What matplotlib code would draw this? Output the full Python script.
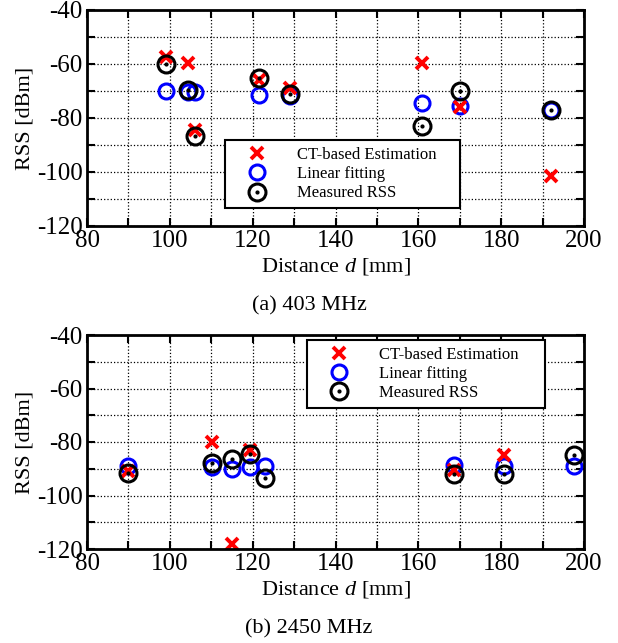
import matplotlib
matplotlib.use('Agg')
import matplotlib.pyplot as plt
from matplotlib.ticker import MultipleLocator
from matplotlib.legend_handler import HandlerTuple

plt.rcParams['font.family'] = ['Liberation Serif', 'DejaVu Serif']
plt.rcParams['mathtext.fontset'] = 'custom'
plt.rcParams['mathtext.rm'] = 'Liberation Serif'
plt.rcParams['mathtext.it'] = 'Liberation Serif:italic'
plt.rcParams['axes.unicode_minus'] = False

# 1. Data
series_labels = ['CT-based Estimation', 'Linear fitting', 'Measured RSS']

dist_403 = [99, 104.5, 106, 121.5, 129, 161, 170, 192]
ct_403   = [-57.5, -59.5, -84.5, -66, -69, -59.5, -76, -101.5]
lin_403  = [-70, -70.3, -70.4, -71.5, -72, -74.3, -75.5, -77]
meas_403 = [-60, -69.7, -86.5, -65, -71, -83, -70, -77]

# two CT estimates fall below the plotted range (not visible in the figure)
dist_2450 = [90, 110.3, 115, 119.3, 123, 168.7, 180.6, 197.6]
ct_2450   = [-91, -80, -118, -83, -126, -90.5, -85, -127]
lin_2450  = [-89, -89.5, -90, -89.2, -89, -88.6, -89, -89]
meas_2450 = [-91.7, -88, -86.5, -84.6, -93.5, -92, -92, -85]

captions = ['(a) 403 MHz', '(b) 2450 MHz']


def draw_panel(ax, dist, ct, lin, meas, leg_box):
    h_lin, = ax.plot(dist, lin, 'o', ls='none', ms=10.8, mfc='none',
                     mec='blue', mew=2.2)
    h_ct, = ax.plot(dist, ct, 'x', ls='none', ms=9, mec='red', mew=2.8)
    h_meas, = ax.plot(dist, meas, 'o', ls='none', ms=12.2, mfc='none',
                      mec='black', mew=2.2)
    h_dot, = ax.plot(dist, meas, '.', ls='none', ms=4, color='black')

    ax.set_xlim(80, 200)
    ax.set_ylim(-120, -40)
    ax.xaxis.set_major_locator(MultipleLocator(20))
    ax.xaxis.set_minor_locator(MultipleLocator(10))
    ax.yaxis.set_major_locator(MultipleLocator(20))
    ax.yaxis.set_minor_locator(MultipleLocator(10))
    ax.grid(True, which='both', ls=':', color='black', lw=0.9)
    ax.tick_params(which='both', direction='in', top=True, right=True,
                   length=6, width=1.5, labelsize=18, pad=3)
    for s in ax.spines.values():
        s.set_linewidth(2)
    ax.set_xlabel('Distance $d$ [mm]', fontsize=16, labelpad=3)
    ax.set_ylabel('RSS [dBm]', fontsize=16)
    ax.yaxis.set_label_coords(-0.105, 0.5)

    leg = ax.legend([h_ct, h_lin, (h_meas, h_dot)], series_labels,
                    handler_map={tuple: HandlerTuple(ndivide=1)},
                    loc='upper left', bbox_to_anchor=leg_box, mode='expand',
                    fontsize=12, fancybox=False, framealpha=1,
                    edgecolor='black', borderpad=0.4, labelspacing=0.2,
                    handlelength=3.0, handletextpad=0.9, borderaxespad=0)
    leg.get_frame().set_linewidth(1.5)


fig = plt.figure(figsize=(6.18, 6.43), dpi=100)
ax1 = fig.add_axes([87 / 618, 1 - 226 / 643, 497 / 618, 216 / 643])
ax2 = fig.add_axes([87 / 618, 1 - 549 / 643, 497 / 618, 214 / 643])

draw_panel(ax1, dist_403, ct_403, lin_403, meas_403, (0.278, 0.0, 0.472, 0.398))
draw_panel(ax2, dist_2450, ct_2450, lin_2450, meas_2450, (0.443, 0.0, 0.479, 0.977))

fig.text(0.5, 1 - 306 / 643, captions[0], ha='center', va='center', fontsize=16)
fig.text(0.5, 1 - 629 / 643, captions[1], ha='center', va='center', fontsize=16)

fig.savefig('out.png', dpi=100)
